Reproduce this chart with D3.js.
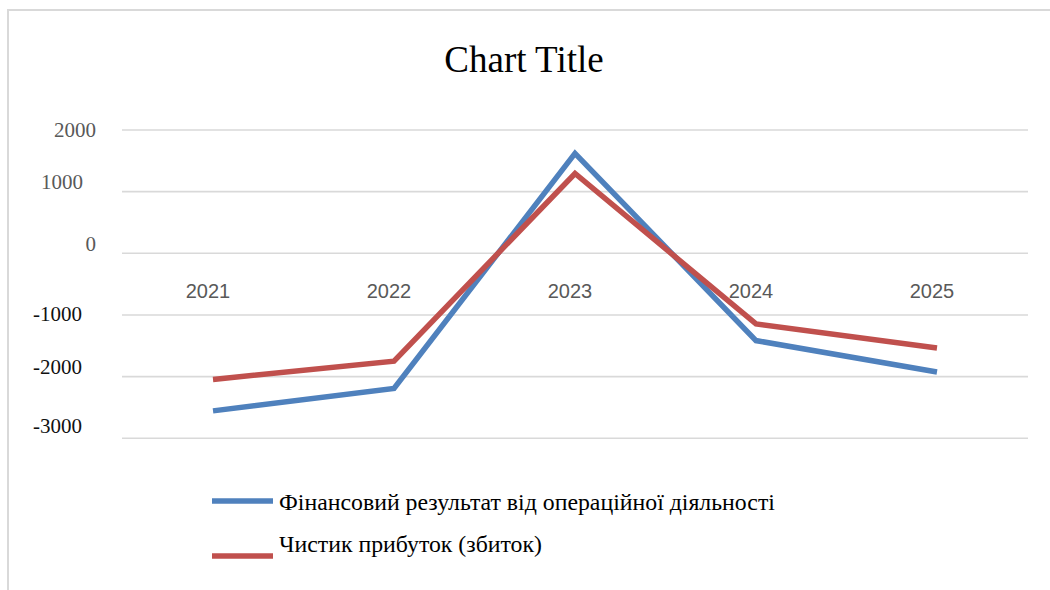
<!DOCTYPE html>
<html>
<head>
<meta charset="utf-8">
<script src="https://cdn.jsdelivr.net/npm/d3@7"></script>
<style>
  html, body { margin: 0; padding: 0; background: #fff; }
  svg { display: block; }
  .serif { font-family: "Liberation Serif", "Times New Roman", Times, "DejaVu Serif", serif; }
  .sans { font-family: "Liberation Sans", Arial, sans-serif; }
</style>
</head>
<body>
<svg id="chart" width="1050" height="590"></svg>
<script>
// ---- data ----
const categories = ["2021", "2022", "2023", "2024", "2025"];
const seriesNames = [
  "Фінансовий результат від операційної діяльності",
  "Чистик прибуток (збиток)"
];
const operatingResult = [-2555, -2190, 1620, -1415, -1925];
const netProfit = [-2045, -1750, 1295, -1145, -1535];
const yTicks = [2000, 1000, 0, -1000, -2000, -3000];
const title = "Chart Title";

// ---- layout / style ----
const colors = ["#4F81BD", "#C0504D"];
const tickLabelLayout = [ // per-tick label nudges as in reference
  { dx: 96, dy: 0,   fill: "#595959" },
  { dx: 83, dy: -10, fill: "#595959" },
  { dx: 96, dy: -10, fill: "#595959" },
  { dx: 82, dy: -1,  fill: "#111" },
  { dx: 82, dy: -10, fill: "#111" },
  { dx: 82, dy: -13, fill: "#111" }
];

const svg = d3.select("#chart");

// border
svg.append("path")
  .attr("d", "M8,590 V10 H1050")
  .attr("fill", "none")
  .attr("stroke", "#d9d9d9")
  .attr("stroke-width", 2);

const x = d3.scaleBand().domain(categories).range([122.5, 1027.5]);
const y = d3.scaleLinear().domain([-3000, 2000]).range([438.3, 130]);

// title
svg.append("text")
  .attr("class", "serif")
  .attr("x", 524).attr("y", 72)
  .attr("text-anchor", "middle")
  .style("font-size", "37px")
  .attr("fill", "#000")
  .text(title);

// gridlines
svg.append("g").selectAll("line").data(yTicks).join("line")
  .attr("x1", 122).attr("x2", 1028)
  .attr("y1", d => y(d)).attr("y2", d => y(d))
  .attr("stroke", "#d9d9d9").attr("stroke-width", 1.6);

// y tick labels
svg.append("g").selectAll("text").data(yTicks).join("text")
  .attr("class", "serif")
  .attr("x", (d, i) => tickLabelLayout[i].dx)
  .attr("y", (d, i) => y(d) + tickLabelLayout[i].dy)
  .attr("dy", "0.35em")
  .attr("text-anchor", "end")
  .style("font-size", "21px")
  .attr("fill", (d, i) => tickLabelLayout[i].fill)
  .text(d => d);

// category labels (axis crosses at 0)
svg.append("g").selectAll("text").data(categories).join("text")
  .attr("class", "sans")
  .attr("x", d => x(d) + x.bandwidth() / 2 - 5)
  .attr("y", y(0) + 38)
  .attr("dy", "0.35em")
  .attr("text-anchor", "middle")
  .style("font-size", "20px")
  .attr("fill", "#595959")
  .text(d => d);

// lines
const line = d3.line()
  .x((d, i) => x(categories[i]) + x.bandwidth() / 2)
  .y(d => y(d));

[operatingResult, netProfit].forEach((vals, k) => {
  svg.append("path")
    .datum(vals)
    .attr("d", line)
    .attr("fill", "none")
    .attr("stroke", colors[k])
    .attr("stroke-width", 5.5)
    .attr("stroke-linejoin", "miter")
    .attr("stroke-linecap", "butt");
});

// legend
const legendItems = [
  { lineY: 501, textY: 510 },
  { lineY: 556, textY: 552 }
];
legendItems.forEach((it, k) => {
  svg.append("line")
    .attr("x1", 212).attr("x2", 273)
    .attr("y1", it.lineY).attr("y2", it.lineY)
    .attr("stroke", colors[k]).attr("stroke-width", 5.5);
  svg.append("text")
    .attr("class", "serif")
    .attr("x", 279).attr("y", it.textY)
    .style("font-size", "23.8px")
    .attr("fill", "#000")
    .text(seriesNames[k]);
});
</script>
</body>
</html>
